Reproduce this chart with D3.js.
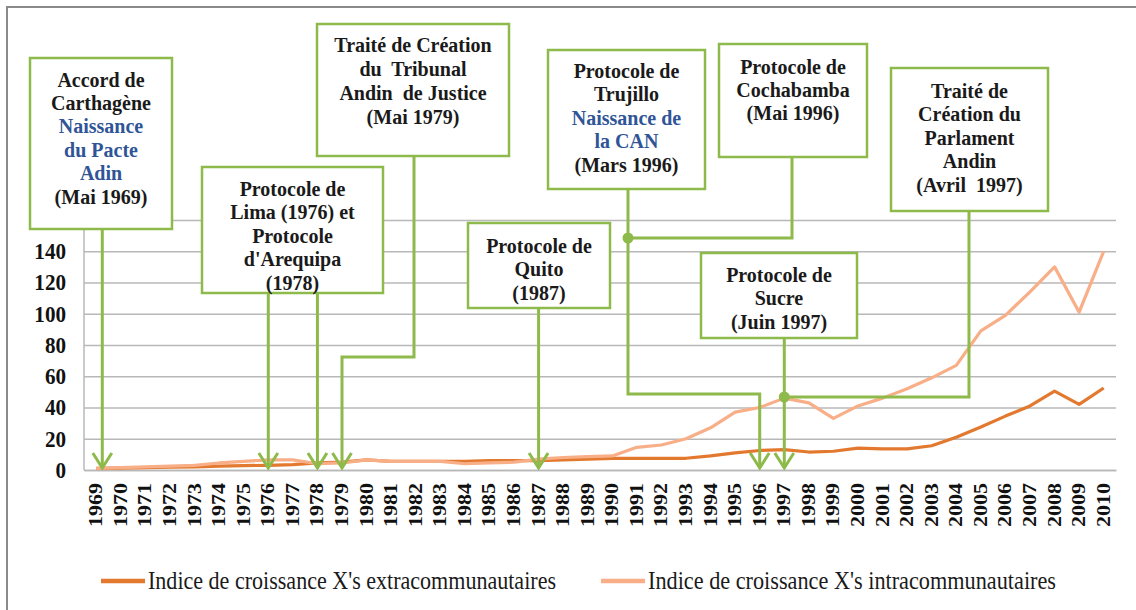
<!DOCTYPE html>
<html>
<head>
<meta charset="utf-8">
<script src="https://cdn.jsdelivr.net/npm/d3@7"></script>
<style>
  body { margin: 0; background: #fff; }
  svg { display: block; font-family: "Liberation Serif", serif; }
  .grid line { stroke: #b8b8b8; stroke-width: 1.5; }
  .grid .domain { display: none; }
  .bold { font-family: "Liberation Serif", serif; font-weight: bold; }
  .ylab text { font-size: 23px; fill: #111; }
  .xlab text { font-size: 22px; fill: #111; }
  .note text { font-size: 20px; fill: #1a1a1a; text-anchor: middle; }
  .note text.blue { fill: #2f5597; }
</style>
</head>
<body>
<div id="chart"></div>
<script>
var years = [1969, 1970, 1971, 1972, 1973, 1974, 1975, 1976, 1977, 1978,
  1979, 1980, 1981, 1982, 1983, 1984, 1985, 1986, 1987, 1988,
  1989, 1990, 1991, 1992, 1993, 1994, 1995, 1996, 1997, 1998,
  1999, 2000, 2001, 2002, 2003, 2004, 2005, 2006, 2007, 2008,
  2009, 2010];

var extra = [1, 1.2, 1.5, 1.8, 2, 2.5, 2.8, 3, 3.5, 4.5,
  5, 6.5, 5.5, 5.5, 5.5, 5.5, 6, 6, 6, 6.5,
  7, 7.5, 7.5, 7.5, 7.5, 9, 11, 12.5, 13, 11.5,
  12, 14, 13.5, 13.5, 15.5, 21, 27.5, 34.5, 41, 50.5,
  42, 52.5];

var intra = [1, 1.5, 2, 2.5, 3, 4.5, 5.5, 6.5, 6.5, 4,
  4.5, 6.5, 5.5, 5.5, 5.5, 4, 4.5, 5, 7, 8,
  8.5, 9, 14.5, 16, 20, 27, 37, 40, 46, 43,
  33, 41, 46, 52, 59, 67, 89, 99, 114, 130,
  101, 140];

var seriesNames = ["Indice de croissance X's extracommunautaires",
                   "Indice de croissance X's intracommunautaires"];
var yTicks = [0, 20, 40, 60, 80, 100, 120, 140, 160];

// annotation texts (blue lines flagged)
var notes = [
  [["Accord de"], ["Carthagène"], ["Naissance", 1], ["du Pacte", 1], ["Adin", 1], ["(Mai 1969)"]],
  [["Protocole de"], ["Lima (1976) et"], ["Protocole"], ["d'Arequipa"], ["(1978)"]],
  [["Traité de Création"], ["du  Tribunal"], ["Andin  de Justice"], ["(Mai 1979)"]],
  [["Protocole de"], ["Trujillo"], ["Naissance de", 1], ["la CAN", 1], ["(Mars 1996)"]],
  [["Protocole de"], ["Cochabamba"], ["(Mai 1996)"]],
  [["Traité de"], ["Création du"], ["Parlament"], ["Andin"], ["(Avril  1997)"]],
  [["Protocole de"], ["Sucre"], ["(Juin 1997)"]],
  [["Protocole de"], ["Quito"], ["(1987)"]]
];

// box placement: x, y, w, h, first line centre, line step
var boxes = [
  [30, 58, 142, 171, 80, 23.4],
  [202, 167, 181, 126, 189, 23.5],
  [317, 24, 192, 132, 45, 24],
  [548, 50, 157, 139, 71, 23.5],
  [719, 44, 148, 113, 67, 23],
  [891, 68, 157, 143, 91, 23.5],
  [701, 253, 156, 85, 275, 23.5],
  [468, 223, 142, 85, 246, 23.8]
];

var W = 1136, H = 610;
var plot = {left: 84, right: 1116, top: 220, bottom: 470};
var green = "#8dba4a";

var svg = d3.select("#chart").append("svg")
  .attr("width", W).attr("height", H);

// outer frame (only top and left are visible in the picture)
svg.append("path")
  .attr("d", "M7," + H + "V7H" + W)
  .attr("fill", "none").attr("stroke", "#8a8a8a").attr("stroke-width", 2);

var x = d3.scaleBand().domain(years).range([plot.left, plot.right]);
var cx = function(yr) { return x(yr) + x.bandwidth() / 2; };
var y = d3.scaleLinear().domain([0, 160]).range([plot.bottom, plot.top]);

var yg = svg.append("g")
  .attr("class", "grid ylab")
  .attr("transform", "translate(" + plot.left + ",0)")
  .call(d3.axisLeft(y).tickValues(yTicks)
    .tickSize(-(plot.right - plot.left)).tickPadding(18));
yg.selectAll("text").attr("class", "bold")
  .attr("transform", "scale(0.92,1)").attr("x", -19.5);

svg.append("line")
  .attr("x1", plot.left).attr("x2", plot.left)
  .attr("y1", plot.top).attr("y2", plot.bottom)
  .attr("stroke", "#b8b8b8").attr("stroke-width", 1.5);

var xg = svg.append("g")
  .attr("class", "xlab")
  .attr("transform", "translate(0," + plot.bottom + ")")
  .call(d3.axisBottom(x).tickSize(0));
xg.select(".domain").attr("stroke", "#b8b8b8").attr("stroke-width", 1.5);
xg.selectAll("text")
  .attr("class", "bold")
  .attr("text-anchor", "end")
  .attr("dy", null)
  .attr("transform", "translate(6,13) rotate(-90) scale(1,0.82)")
  .attr("x", 0).attr("y", 0);

var line = function(vals) {
  return d3.line()
    .x(function(d, i) { return cx(years[i]); })
    .y(function(d) { return y(d); })(vals);
};

svg.append("path").attr("d", line(extra))
  .attr("fill", "none").attr("stroke", "#e2792f").attr("stroke-width", 3.2)
  .attr("stroke-linejoin", "round");
svg.append("path").attr("d", line(intra))
  .attr("fill", "none").attr("stroke", "#f8ae87").attr("stroke-width", 3.2)
  .attr("stroke-linejoin", "round");

// connectors
var tip = 468;
var conns = [
  {pts: [[cx(1969) + 6, 229]], to: cx(1969) + 6},
  {pts: [[cx(1976), 293]], to: cx(1976)},
  {pts: [[cx(1978), 293]], to: cx(1978)},
  {pts: [[414, 156], [414, 357], [cx(1979), 357]], to: cx(1979)},
  {pts: [[628, 189], [628, 394], [cx(1996), 394]], to: cx(1996)},
  {pts: [[792, 157], [792, 238], [628, 238]]},
  {pts: [[969, 211], [969, 397], [cx(1997), 397]]},
  {pts: [[cx(1997), 338]], to: cx(1997)},
  {pts: [[cx(1987), 308]], to: cx(1987)}
];
var conn = svg.append("g")
  .attr("fill", "none").attr("stroke", green).attr("stroke-width", 3);
conns.forEach(function(c) {
  var pts = c.pts.slice();
  if (c.to !== undefined) pts.push([c.to, tip]);
  conn.append("path").attr("d", d3.line()(pts));
  if (c.to !== undefined) {
    conn.append("path").attr("d", d3.line()([[c.to - 9.5, tip - 15], [c.to, tip], [c.to + 9.5, tip - 15]]));
  }
});

svg.selectAll(".dot").data([[628, 238], [cx(1997), 397]]).enter()
  .append("circle")
  .attr("cx", function(d) { return d[0]; })
  .attr("cy", function(d) { return d[1]; })
  .attr("r", 5.5).attr("fill", green);

// boxes
notes.forEach(function(lines, i) {
  var b = boxes[i];
  var g = svg.append("g").attr("class", "note");
  g.append("rect")
    .attr("x", b[0]).attr("y", b[1]).attr("width", b[2]).attr("height", b[3])
    .attr("fill", "#fff").attr("stroke", green).attr("stroke-width", 2.5);
  g.selectAll("text").data(lines).enter().append("text")
    .attr("class", function(d) { return d[1] ? "bold blue" : "bold"; })
    .attr("x", b[0] + b[2] / 2)
    .attr("y", function(d, j) { return b[4] + j * b[5]; })
    .attr("dy", "0.33em")
    .style("white-space", "pre")
    .text(function(d) { return d[0]; });
});

// legend
var legend = svg.append("g");
var legX = [[101, 148], [601, 648]];
var legColors = ["#e2792f", "#f8ae87"];
seriesNames.forEach(function(name, i) {
  legend.append("line")
    .attr("x1", legX[i][0]).attr("x2", legX[i][0] + 44)
    .attr("y1", 581).attr("y2", 581)
    .attr("stroke", legColors[i]).attr("stroke-width", 4.5);
  legend.append("text")
    .attr("x", legX[i][1]).attr("y", 589)
    .attr("font-size", 25).attr("fill", "#1a1a1a")
    .attr("textLength", 408).attr("lengthAdjust", "spacingAndGlyphs")
    .text(name);
});
</script>
</body>
</html>
